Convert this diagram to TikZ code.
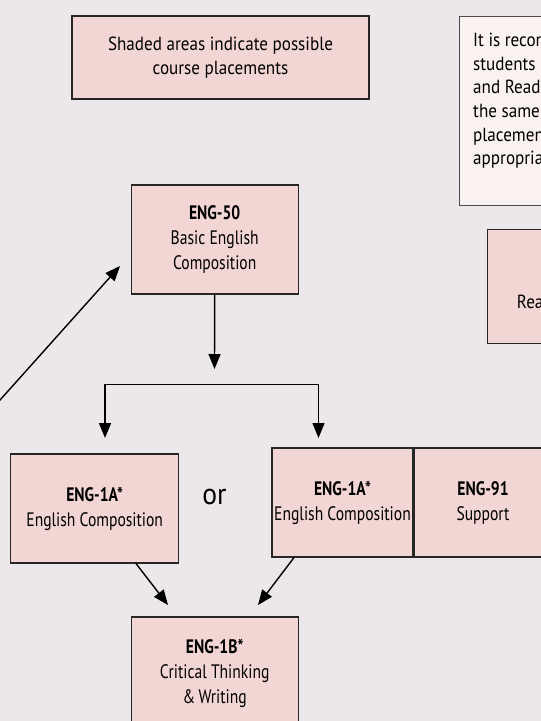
\documentclass[tikz,border=0pt]{standalone}
\usepackage{fontspec}
\setmainfont{PT Sans}[FakeStretch=0.9]
\newfontfamily\boxfont{PT Sans}[FakeStretch=0.8]
\newfontfamily\orfont{PT Sans}[FakeStretch=0.92]
\usetikzlibrary{arrows.meta}
\definecolor{bg}{RGB}{235,231,234}
\definecolor{shade}{RGB}{242,214,212}
\definecolor{notefill}{RGB}{250,242,241}
\begin{document}
\begin{tikzpicture}[x=1pt,y=-1pt,
  txt/.style={align=center,inner sep=0pt,font=\fontsize{19}{24.5}\selectfont},
  btxt/.style={align=center,inner sep=0pt,font=\boxfont\fontsize{19.5}{25}\selectfont},
  frame/.style={draw=black!85,line width=1.1pt,fill=shade},
  box/.style={btxt,frame},
  note/.style={draw=black!70,line width=0.8pt,fill=notefill,inner sep=0pt},
  arr/.style={line width=1.4pt,-{Triangle[width=12pt,length=15pt]}},
  arr2/.style={line width=1.4pt,{Triangle[width=12pt,length=15pt]}-{Triangle[width=12pt,length=15pt]}}
  ]
\clip (0,0) rectangle (541,721);
\fill[bg] (0,0) rectangle (541,721);

% legend
\node[txt,frame,minimum width=297pt,minimum height=83pt] (legend) at (220.5,57.5)
  {Shaded areas indicate possible\\course placements};

% note box (cut off at right)
\node[note,minimum width=110pt,minimum height=189pt,anchor=north west] (notebox) at (459,16) {};
\node[txt,align=left,anchor=north west,font=\fontsize{19}{23.6}\selectfont] (notetext) at (473,33)
  {It is recon\\students\\and Read\\the same\\placemen\\appropria};

% reading box (cut off)
\node[frame,minimum width=80pt,minimum height=113.5pt,anchor=north west,inner sep=0pt] (readbox) at (486.7,229.3) {};
\node[txt,anchor=west] (readtext) at (516.7,302) {Rea};

% ENG-50
\node[box,minimum width=167pt,minimum height=109pt] (eng50) at (214.7,239.5)
  {\textbf{ENG-50}\\Basic English\\Composition};

% ENG-1A left
\node[box,minimum width=168pt,minimum height=109pt] (eng1a) at (94.7,508.5)
  {\textbf{ENG-1A*}\\English Composition};

\node[inner sep=0pt,font=\orfont\fontsize{30}{30}\selectfont] (or) at (214.5,497) {or};

% ENG-1A + ENG-91
\node[box,minimum width=141pt,minimum height=109pt] (eng1b2) at (342.5,502.5)
  {\textbf{ENG-1A*}\\English Composition};
\node[frame,minimum width=140pt,minimum height=109pt,anchor=west,inner sep=0pt] (eng91box) at (eng1b2.east) {};
\node[btxt] (eng91) at (483,502.5) {\textbf{ENG-91}\\Support};

% ENG-1B
\node[box,minimum width=167pt,minimum height=112pt] (eng1b) at (214.7,673)
  {\textbf{ENG-1B*}\\Critical Thinking\\\&\,Writing};

% connectors
\coordinate (downtip) at (214.5,369);
\draw[arr] (eng50.south) -- (downtip);

\coordinate (bl) at (105,438);
\coordinate (br) at (318.5,438);
\coordinate (bln) at (105,384.5);
\coordinate (brn) at (318.5,384.5);
\draw[arr2] (bl) -- (bln) -- (brn) -- (br);

\coordinate (diagstart) at (-10,411.2);
\coordinate (diagtip) at (120,266);
\draw[arr] (diagstart) -- (diagtip);

\coordinate (t1) at (168,605);
\coordinate (t2) at (258,605);
\draw[arr] ([xshift=41.3pt]eng1a.south) -- (t1);
\draw[arr] ([xshift=-48.5pt]eng1b2.south) -- (t2);
\end{tikzpicture}
\end{document}
